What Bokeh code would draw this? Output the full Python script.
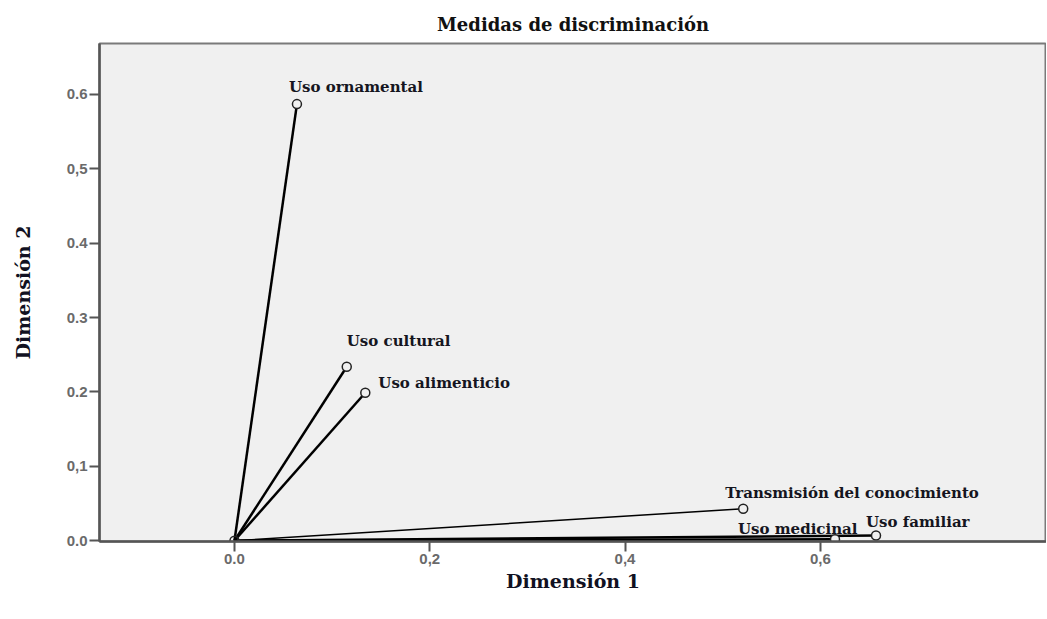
from bokeh.plotting import figure
from bokeh.models import ColumnDataSource, FixedTicker, Range1d
from bokeh.core.properties import value
from bokeh.embed import file_html
from bokeh.resources import INLINE

# Data
variables = ["Uso ornamental", "Uso cultural", "Uso  alimenticio",
             "Transmisión del conocimiento", "Uso medicinal", "Uso familiar"]
dim1 = [0.064, 0.115, 0.134, 0.521, 0.615, 0.657]
dim2 = [0.587, 0.234, 0.199, 0.043, 0.002, 0.007]
x_ticks = [0.0, 0.2, 0.4, 0.6]
x_tick_labels = ["0.0", "0,2", "0,4", "0,6"]
y_ticks = [0.0, 0.1, 0.2, 0.3, 0.4, 0.5, 0.6]
y_tick_labels = ["0.0", "0,1", "0.2", "0.3", "0.4", "0,5", "0.6"]

# label placement (screen pixels; negative y is up)
lab_dx = [-8, 0, 13, -18, -97, -10]
lab_dy = [-17, -26, -10, -16, -10, -14]
line_w = [2.5, 2.5, 2.5, 1.5, 2.5, 2.5]

src = ColumnDataSource(dict(x0=[0.0]*len(dim1), y0=[0.0]*len(dim1), x=dim1, y=dim2,
                            name=variables, dx=lab_dx, dy=lab_dy, lw=line_w))

p = figure(width=1046, height=612, output_backend="svg", toolbar_location=None,
           x_range=Range1d(-0.1382, 0.8316), y_range=Range1d(-0.001, 0.6685),
           min_border_left=99, min_border_right=0, min_border_top=43, min_border_bottom=71)

p.title.text = "Medidas de discriminación"
p.title.align = "center"
p.title.text_font = "DejaVu Serif"
p.title.text_font_style = "bold"
p.title.text_font_size = "18px"
p.title.text_color = "#111111"
p.title.standoff = 18

p.background_fill_color = "#f0f0f0"
p.border_fill_color = "white"
p.outline_line_color = "#7a7a7a"
p.outline_line_width = 2
p.xgrid.visible = False
p.ygrid.visible = False

p.segment(x0="x0", y0="y0", x1="x", y1="y", source=src, line_color="black", line_width="lw")
p.scatter(x="x", y="y", source=src, marker="circle", size=9, fill_color="#f0f0f0",
          line_color="#222222", line_width=1.5)
p.scatter(x=[0.0], y=[0.0], marker="circle", size=9, fill_color=None,
          line_color="#222222", line_width=1.5)
p.text(x="x", y="y", text="name", source=src, x_offset="dx", y_offset="dy",
       text_font=value("DejaVu Serif"), text_font_style="bold", text_font_size="15px",
       text_color="#151520", text_baseline="middle", text_align="left")

for ax in (p.xaxis[0], p.yaxis[0]):
    ax.axis_line_color = "#555555"
    ax.axis_line_width = 2.5
    ax.major_tick_line_color = "#555555"
    ax.major_tick_line_width = 2
    ax.major_tick_out = 10
    ax.major_tick_in = 0
    ax.minor_tick_line_color = None
    ax.major_label_text_font = "Liberation Sans"
    ax.major_label_text_font_size = "15px"
    ax.major_label_text_color = "#6a6a6a"
    ax.major_label_text_font_style = "bold"
    ax.axis_label_text_font = "DejaVu Serif"
    ax.axis_label_text_font_style = "bold"
    ax.axis_label_text_font_size = "19px"
    ax.axis_label_text_color = "#111122"

p.xaxis.ticker = FixedTicker(ticks=x_ticks)
p.yaxis.ticker = FixedTicker(ticks=y_ticks)
p.xaxis.major_label_overrides = dict(zip(x_ticks, x_tick_labels))
p.yaxis.major_label_overrides = dict(zip(y_ticks, y_tick_labels))
p.xaxis.axis_label = "Dimensión 1"
p.yaxis.axis_label = "Dimensión 2"
p.xaxis.axis_label_standoff = 3
p.yaxis.axis_label_standoff = 30
p.xaxis.major_label_standoff = 2
p.yaxis.major_label_standoff = 2

open("out.html", "w").write(file_html(p, INLINE))
